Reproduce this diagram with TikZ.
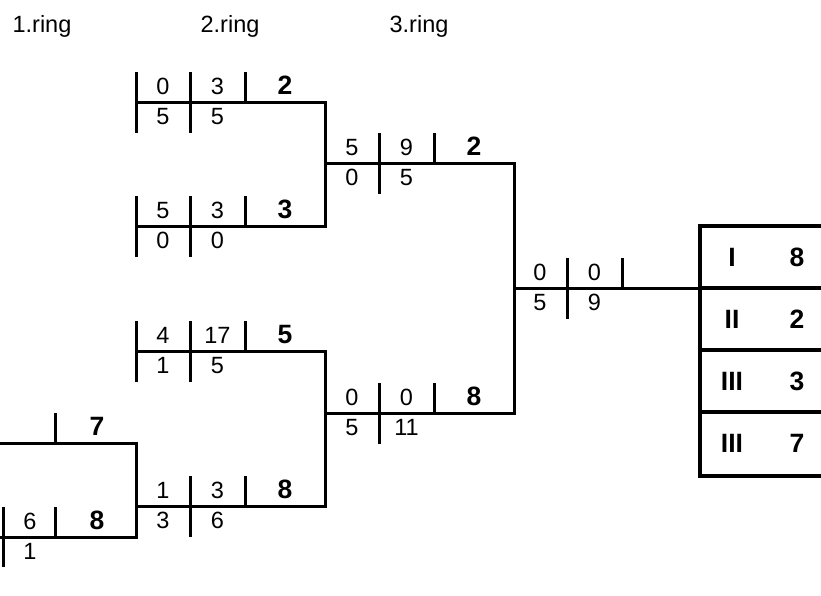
\documentclass[tikz,border=0pt]{standalone}
\usepackage{fontspec}
\setmainfont{Liberation Sans}
\tikzset{
  ln/.style={line width=3pt, black},
  tbl/.style={line width=4.3pt, black},
  num/.style={anchor=base, inner sep=0pt, font=\fontsize{23.5}{27}\selectfont},
  bnum/.style={anchor=base, inner sep=0pt, font=\fontsize{26.5}{30}\selectfont\bfseries},
  hdr/.style={anchor=base, inner sep=0pt, font=\fontsize{23.5}{27}\selectfont},
}
% #1 name, #2 L, #3 H, #4 top1, #5 top2, #6 top3 (bold), #7 bot1, #8 bot2
\newcommand{\ringgrp}[8]{%
  \coordinate (#1-l) at (#2,#3);
  \coordinate (#1-r) at (#2+189,#3);
  \coordinate (#1-a1) at (#2+54,#3-30);
  \coordinate (#1-a2) at (#2+54,#3+31);
  \coordinate (#1-b1) at (#2+109,#3-30);
  \coordinate (#1-b2) at (#2+109,#3);
  \draw[ln] (#1-a1) -- (#1-a2);
  \draw[ln] (#1-b1) -- (#1-b2);
  \node[num] (#1-t1) at (#2+27,#3-8) {#4};
  \node[num] (#1-t2) at (#2+81.5,#3-8) {#5};
  \node[bnum] (#1-t3) at (#2+149,#3-8) {#6};
  \node[num] (#1-u1) at (#2+27,#3+22.5) {#7};
  \node[num] (#1-u2) at (#2+81.5,#3+22.5) {#8};
}
\newcommand{\leftbar}[3]{%
  \coordinate (#1-v1) at (#2,#3-30);
  \coordinate (#1-v2) at (#2,#3+31);
  \draw[ln] (#1-v1) -- (#1-v2);
}
\begin{document}
\begin{tikzpicture}[x=1pt,y=-1pt]
\useasboundingbox (0,0) rectangle (821,595);
% headers
\node[hdr] (h1) at (42,32) {1.ring};
\node[hdr] (h2) at (230,32) {2.ring};
\node[hdr] (h3) at (419,32) {3.ring};
% 2.ring groups
\ringgrp{g1}{136}{102}{0}{3}{2}{5}{5}
\leftbar{g1}{136}{102}
\ringgrp{g2}{136}{226}{5}{3}{3}{0}{0}
\leftbar{g2}{136}{226}
\ringgrp{g3}{136}{351}{4}{17}{5}{1}{5}
\leftbar{g3}{136}{351}
\ringgrp{g4}{136}{506}{1}{3}{8}{3}{6}
% 3.ring groups
\ringgrp{g5}{325}{163}{5}{9}{2}{0}{5}
\ringgrp{g6}{325}{413}{0}{0}{8}{5}{11}
% final
\ringgrp{g7}{513}{288}{0}{0}{}{5}{9}
% 1.ring groups
\coordinate (g8-l) at (0,443);
\coordinate (g8-r) at (136,443);
\coordinate (g8-s1) at (55,413);
\coordinate (g8-s2) at (55,443);
\draw[ln] (g8-s1) -- (g8-s2);
\node[bnum] (g8-t3) at (97,435) {7};
\coordinate (g9-l) at (0,537);
\coordinate (g9-r) at (136,537);
\coordinate (g9-a1) at (3,507);
\coordinate (g9-a2) at (3,567);
\coordinate (g9-s1) at (55,507);
\coordinate (g9-s2) at (55,537);
\draw[ln] (g9-a1) -- (g9-a2);
\draw[ln] (g9-s1) -- (g9-s2);
\node[num] (g9-t2) at (30,529) {6};
\node[bnum] (g9-t3) at (97,529) {8};
\node[num] (g9-u2) at (30,559.5) {1};
% brackets
\draw[ln] (g1-l) -- (g1-r) -- (g2-r) -- (g2-l);
\draw[ln] (g3-l) -- (g3-r) -- (g4-r) -- (g4-l);
\draw[ln] (g8-l) -- (g8-r) -- (g9-r) -- (g9-l);
\draw[ln] (g5-l) -- (g5-r) -- (g6-r) -- (g6-l);
% result table
\coordinate (t0) at (700,226);
\coordinate (t4) at (700,476);
\draw[ln] (g7-l) -- (700,288);
\draw[tbl] (830,226) -- (t0) -- (t4) -- (830,476);
\foreach \yy in {288,350,412} \draw[tbl] (700,\yy) -- (830,\yy);
\node[bnum] (r1a) at (732,266) {I};
\node[bnum] (r1b) at (797,266) {8};
\node[bnum] (r2a) at (732,328) {II};
\node[bnum] (r2b) at (797,328) {2};
\node[bnum] (r3a) at (732,390) {III};
\node[bnum] (r3b) at (797,390) {3};
\node[bnum] (r4a) at (732,452.5) {III};
\node[bnum] (r4b) at (797,452.5) {7};
\end{tikzpicture}
\end{document}
